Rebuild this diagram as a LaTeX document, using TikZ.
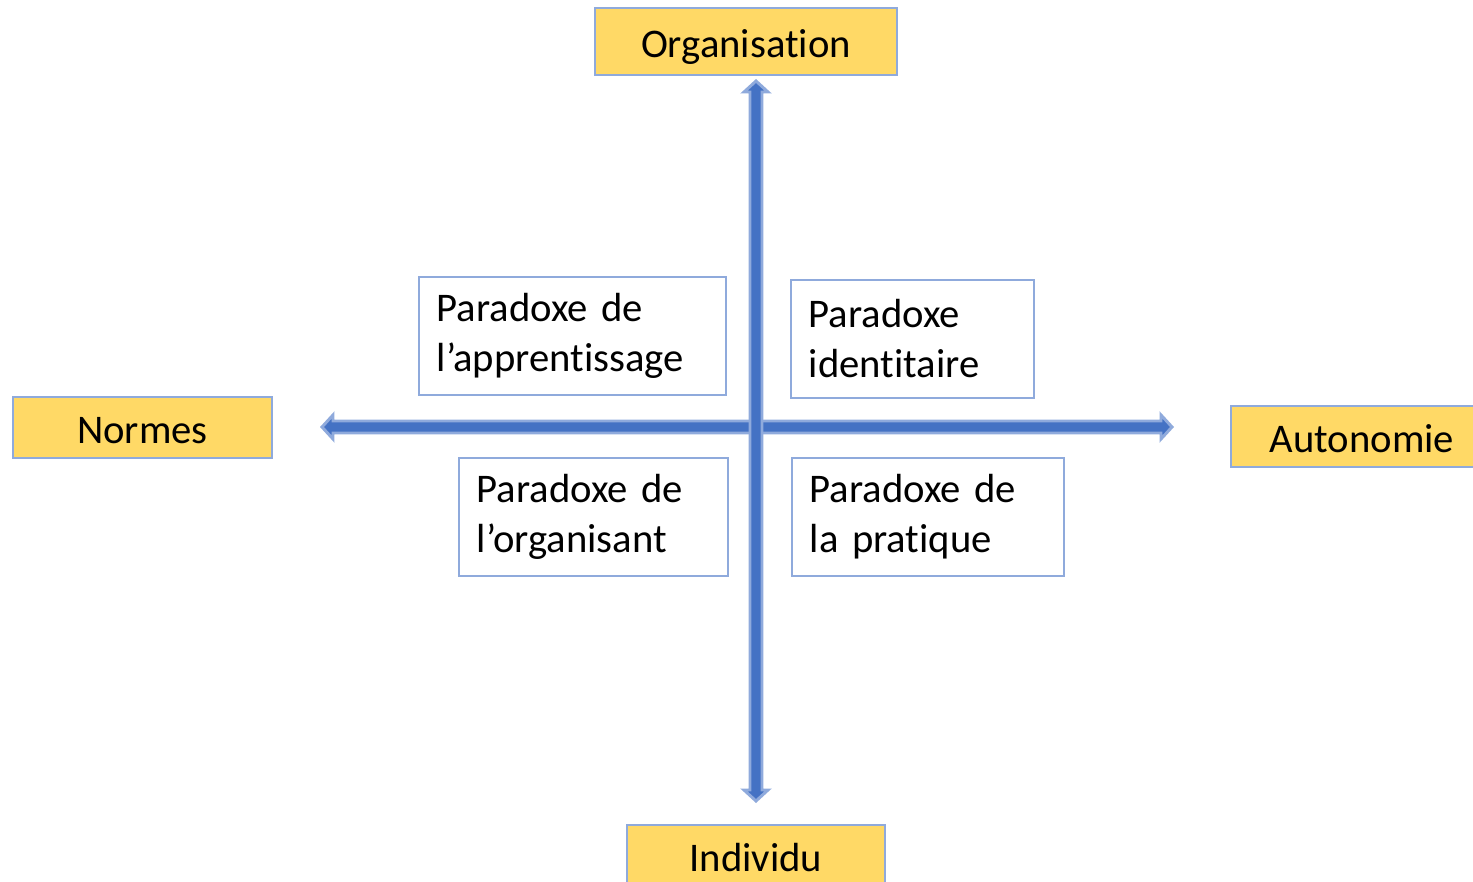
\documentclass[tikz,border=0pt]{standalone}
\usepackage{fontspec}
\setmainfont{Carlito}[Ligatures={NoCommon}]
\definecolor{axisblue}{HTML}{4472C4}
\definecolor{edgeblue}{HTML}{8FAADC}
\definecolor{poleyellow}{HTML}{FFD966}
\begin{document}
\begin{tikzpicture}[x=0.75pt,y=-0.75pt,
  labeltext/.style={font=\fontsize{30.5}{37.5}\selectfont},
  pole/.style={labeltext, draw=edgeblue, line width=1.5pt, fill=poleyellow,
    minimum width=259*0.75pt, minimum height=61*0.75pt, inner sep=0pt,
    text height=24pt, text depth=0pt},
  quad/.style={labeltext, draw=edgeblue, line width=1.2pt, fill=white,
    anchor=north west, align=left, inner xsep=18*0.75pt, inner ysep=0pt},
  axis/.style={fill=axisblue, draw=edgeblue, line width=2.2pt, line join=miter}]
\useasboundingbox (0,0) rectangle (1473,881);
\clip (0,0) rectangle (1473,881);

% pole labels
\node[pole, minimum width=302*0.75pt, minimum height=67*0.75pt] (org) at (746,41.5) {Organisation};
\node[pole] (norm) at (142.5,427) {Normes};
\node[pole, minimum width=262*0.75pt] (auto) at (1362,436) {Autonomie};
\node[pole, minimum width=258*0.75pt] (ind) at (756,855) {Individu};

% horizontal axis
\fill[axis] (322,427) -- (333,415) -- (333,421) -- (1161,421) -- (1161,415)
  -- (1172,427) -- (1161,439) -- (1161,433) -- (333,433) -- (333,439) -- cycle;
% vertical axis
\fill[axis] (756,81) -- (768,92) -- (762,92) -- (762,790) -- (768,790)
  -- (756,801) -- (744,790) -- (750,790) -- (750,92) -- (744,92) -- cycle;

% quadrant boxes
\node[quad, text width=(307-36)*0.75pt, minimum height=118*0.75pt] (appr) at (418,276)
  {Paradoxe de\\l’apprentissage};
\node[quad, text width=(243-36)*0.75pt, minimum height=118*0.75pt] (ident) at (790,279)
  {Paradoxe\\identitaire};
\node[quad, text width=(269-36)*0.75pt, minimum height=118*0.75pt] (orgt) at (458,457)
  {Paradoxe de\\l’organisant};
\node[quad, text width=(272-36)*0.75pt, minimum height=118*0.75pt] (prat) at (791,457)
  {Paradoxe de\\la pratique};
\end{tikzpicture}
\end{document}
